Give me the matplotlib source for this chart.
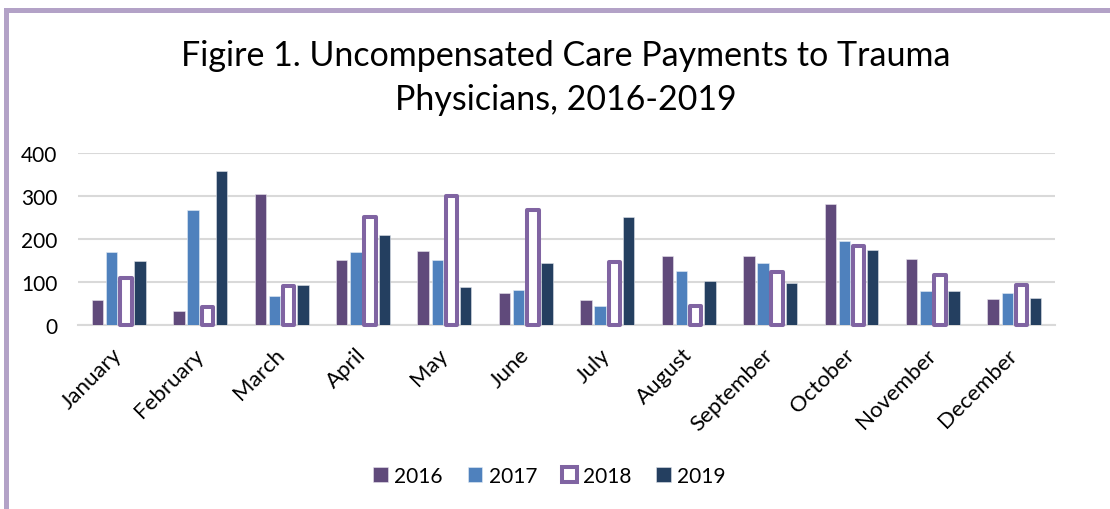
import numpy as np
from matplotlib import pyplot as plt
from matplotlib.lines import Line2D

plt.rcParams['font.family'] = ['Lato', 'DejaVu Sans']

# Values
months = ['January', 'February', 'March', 'April', 'May', 'June', 'July',
          'August', 'September', 'October', 'November', 'December']
years = ['2016', '2017', '2018', '2019']
vals_2016 = [58, 32, 305, 150, 172, 75, 57, 160, 160, 281, 153, 60]
vals_2017 = [169, 268, 67, 169, 150, 81, 44, 126, 145, 196, 78, 74]
vals_2018 = [109, 42, 90, 252, 300, 268, 147, 44, 122, 184, 115, 94]
vals_2019 = [149, 358, 92, 210, 89, 144, 252, 103, 98, 174, 78, 62]
y_ticks = [0, 100, 200, 300, 400]

fig = plt.figure(figsize=(11.1, 5.1), dpi=100)
ax = fig.add_axes([0.0703, 0.361, 0.8802, 0.337])

x = np.arange(len(months))
slot = 0.174
width = 0.141

ax.bar(x - 1.5 * slot, vals_2016, width, color='#604A7B', edgecolor='#e8e4ee', lw=0.4, label=years[0], zorder=3)
ax.bar(x - 0.5 * slot, vals_2017, width, color='#4F81BD', edgecolor='#e4ecf5', lw=0.4, label=years[1], zorder=3)
ax.bar(x + 0.5 * slot, vals_2018, width, color='white', edgecolor='#8064A2', lw=2.9,
       joinstyle='round', clip_on=False, label=years[2], zorder=3)
ax.bar(x + 1.5 * slot, vals_2019, width, color='#243F60', edgecolor='#e0e4ea', lw=0.4, label=years[3], zorder=3)

ax.set_xlim(-0.5, len(months) - 0.5)
ax.set_ylim(0, 400)
ax.set_yticks(y_ticks)
ax.tick_params(axis='y', length=0, labelsize=15, pad=15)
ax.tick_params(axis='x', length=0, pad=19)
ax.set_xticks(x)
ax.set_xticklabels(months, rotation=45, ha='right', va='center', rotation_mode='anchor', fontsize=16)
ax.grid(axis='y', color='#d9d9d9', lw=1.5, zorder=0)
for s in ['top', 'right', 'left']:
    ax.spines[s].set_visible(False)
ax.spines['bottom'].set_color('#d9d9d9')
ax.spines['bottom'].set_linewidth(1.5)

fig.text(0.51, 1 - 78 / 510, 'Figire 1. Uncompensated Care Payments to Trauma\nPhysicians, 2016-2019',
         ha='center', va='center', fontsize=24.5, linespacing=1.5)

ax.legend(loc='center', bbox_to_anchor=(0.495, 1 - 477 / 510), bbox_transform=fig.transFigure,
          ncol=4, frameon=False, fontsize=15, handlelength=0.7, handleheight=0.7,
          handletextpad=0.3, columnspacing=1.2)

# chart frame (left and top edges visible in the reference)
fig.add_artist(Line2D([6 / 1110, 6 / 1110], [0, 1 - 11 / 510], color='#b3a2c7', lw=3.6,
                      transform=fig.transFigure, solid_capstyle='projecting'))
fig.add_artist(Line2D([6 / 1110, 1], [1 - 11 / 510, 1 - 11 / 510], color='#b3a2c7', lw=3.6,
                      transform=fig.transFigure, solid_capstyle='projecting'))

fig.savefig('out.png', dpi=100)
